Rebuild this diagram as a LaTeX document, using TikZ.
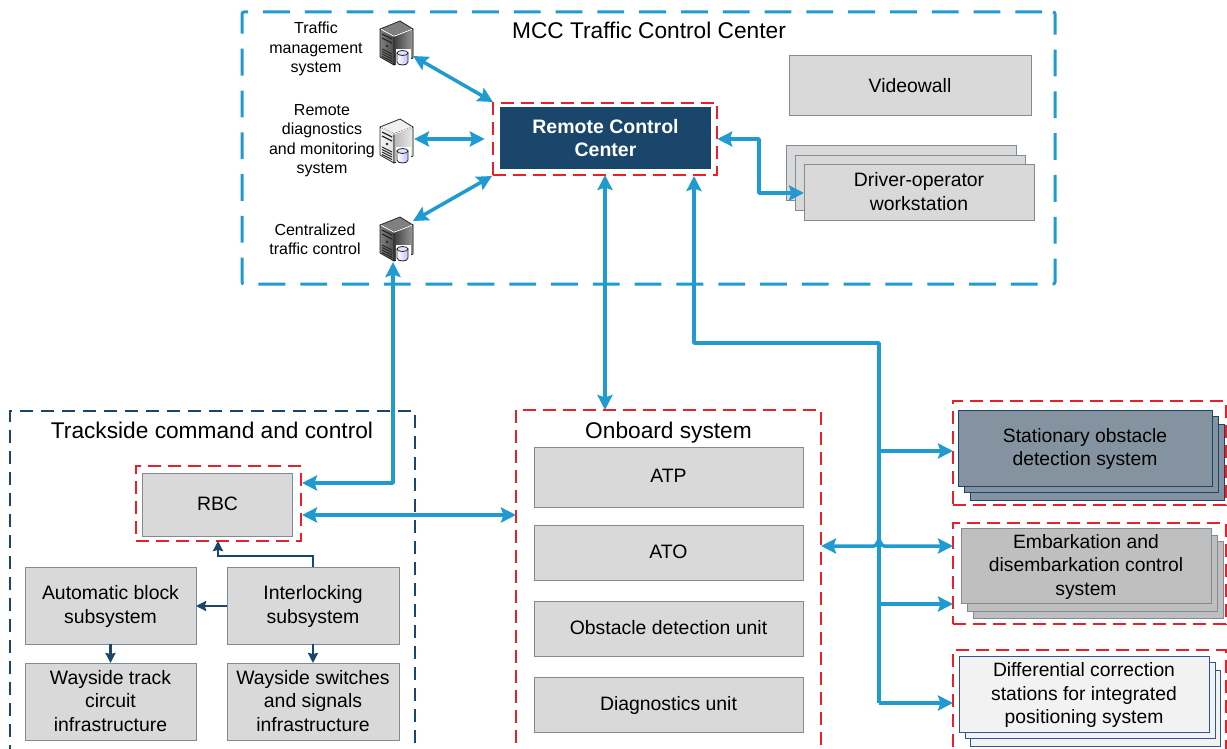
\documentclass[tikz,border=0pt]{standalone}
\usepackage{fontspec}
\setmainfont{Liberation Sans}
\usetikzlibrary{arrows.meta}
\definecolor{linkblue}{HTML}{1F9BCF}
\definecolor{navy}{HTML}{1A466B}
\definecolor{alarmred}{HTML}{E8202A}
\definecolor{boxgrey}{HTML}{D9D9D9}
\definecolor{edgegrey}{HTML}{7F8C96}
\definecolor{slate}{HTML}{84939F}
\definecolor{stationblue}{HTML}{2F5597}
\tikzstyle{box} = [draw=edgegrey, fill=boxgrey, line width=1pt, rectangle, align=center, inner sep=0pt, outer sep=0pt, text depth=1.6pt, font=\fontsize{19.4}{23.5}\selectfont]
\tikzstyle{frame} = [draw, rectangle, inner sep=0pt, outer sep=0pt]
\tikzstyle{red frame} = [frame, draw=alarmred, line width=1.6pt, dash pattern=on 13pt off 7pt]
\tikzstyle{navy frame} = [frame, draw=navy, line width=1.6pt, dash pattern=on 13pt off 8pt]
\tikzstyle{blue frame} = [frame, draw=linkblue, line width=3pt, dash pattern=on 26.8pt off 15pt, dash phase=31pt, rounded corners=2pt]
\tikzstyle{title} = [inner sep=0pt, text depth=0pt, font=\fontsize{22.7}{26}\selectfont]
\tikzstyle{caption} = [inner sep=0pt, align=center, text depth=0pt, font=\fontsize{16}{19.5}\selectfont]
\tikzstyle{obstacle} = [box, draw=navy, fill=slate, font=\fontsize{19.3}{23.5}\selectfont]
\tikzstyle{gate} = [box, fill=black!25, font=\fontsize{19.3}{23.5}\selectfont]
\tikzstyle{station} = [box, draw=stationblue, fill=black!5, font=\fontsize{19.3}{23.5}\selectfont]
\tikzstyle{link} = [{Stealth[length=15pt, width=15pt, inset=2.5pt]}-{Stealth[length=15pt, width=15pt, inset=2.5pt]}, linkblue, line width=3.5pt, line join=round]
\tikzstyle{feed} = [-{Stealth[length=15pt, width=15pt, inset=2.5pt]}, linkblue, line width=3.5pt, line join=round]
\tikzstyle{control} = [-{Stealth[length=10pt, width=10pt, inset=1pt]}, navy, line width=2.2pt]
\tikzstyle{serverspot} = [inner sep=0pt, outer sep=0pt, minimum width=34pt, minimum height=46pt]
\tikzset{
    pics/server/.style n args={3}{code={
        \fill [#1, draw=black!85, line width=0.8pt, line join=round] (3, -22) -- (16, -14) -- (-3, -7) -- (-17, -14) -- cycle;
        \fill [#2, draw=black!85, line width=0.8pt, line join=round] (-17, -14) -- (-3, -7) -- (-3, 22) -- (-17, 14) -- cycle;
        \fill [#3, draw=black!85, line width=0.8pt, line join=round] (-3, -7) -- (16, -14) -- (16, 15) -- (-3, 22) -- cycle;
        \draw [white, line width=0.9pt] (-16, -13.7) -- (-3, -6.8) -- (15, -13.7);
        \foreach \y in {-9, -5} {
            \draw [black!85, line width=1.3pt] (-15, \y) -- (-5, \y + 5);
        }
        \fill [black!85] (-10, 3) circle (1.3pt);
        \foreach \y in {6, 8.5, 11, 13.5} {
            \draw [black!85, line width=0.9pt] (-15, \y) -- (-5, \y + 5);
        }
        % Disk.
        \fill [white] (-1, 6) rectangle (14, 24);
        \draw [left color=white, right color=blue!25, draw=black!85, line width=0.8pt] (0, 10) -- (0, 19) .. controls (0, 23) and (11, 23) .. (11, 19) -- (11, 10) -- cycle;
        \draw [fill=blue!12, draw=black!85, line width=0.8pt] (5.5, 10) ellipse [x radius=5.5pt, y radius=2.5pt];
    }}
}

\begin{document}
\begin{tikzpicture}[x=1pt, y=-1pt]
    \clip [use as bounding box] (0, 0) rectangle (1227, 749);

    % Traffic control center.
    \node (mcc) [blue frame, minimum width=813pt, minimum height=272pt] at (648.5, 148) {};
    \node (mcc title) [title] at (649, 30) {MCC Traffic Control Center};

    \node (videowall) [box, minimum width=242pt, minimum height=60pt] at (910, 86) {Videowall};
    \node (desk back) [box, minimum width=230pt, minimum height=55pt] at (901, 173.5) {};
    \node (desk mid) [box, minimum width=230pt, minimum height=55pt] at (910.5, 183) {};
    \node (desk) [box, minimum width=230pt, minimum height=55pt] at (919, 192.5) {Driver-operator\\workstation};

    \node (rcc frame) [red frame, minimum width=224.5pt, minimum height=72pt] at (605, 139) {};
    \node (rcc) [fill=navy, text=white, inner sep=0pt, align=center, minimum width=211pt, minimum height=62pt, font=\fontsize{19.5}{23}\selectfont\bfseries] at (605.5, 138.5) {Remote Control\\Center};

    % Servers.
    \node (tms) [serverspot] at (397, 43) {};
    \node (rdm) [serverspot] at (397, 141) {};
    \node (ctc) [serverspot] at (397, 239) {};
    \pic at (tms) {server={fill=black!50}{left color=black!50, right color=black!70}{left color=black!75, right color=black!40}};
    \pic at (rdm) {server={fill=black!6}{left color=black!4, right color=black!12}{left color=black!28, right color=black!8}};
    \pic at (ctc) {server={fill=black!50}{left color=black!50, right color=black!70}{left color=black!75, right color=black!40}};

    \node (tms text) [caption] at (316, 47.5) {Traffic\\management\\system};
    \node (rdm text) [caption] at (322, 139) {Remote\\diagnostics\\and monitoring\\system};
    \node (ctc text) [caption] at (315, 239) {Centralized\\traffic control};

    % Trackside.
    \node (trackside) [navy frame, minimum width=405pt, minimum height=389pt] at (212.5, 605.5) {};
    \node (trackside title) [title] at (212, 430) {Trackside command and control};

    \node (rbc frame) [red frame, minimum width=165pt, minimum height=75pt] at (218.5, 503.5) {};
    \node (rbc) [box, minimum width=150pt, minimum height=63pt] at (217.5, 504.5) {RBC};
    \node (block) [box, minimum width=171pt, minimum height=77pt] at (110.5, 605.5) {Automatic block\\subsystem};
    \node (interlock) [box, minimum width=172pt, minimum height=77pt] at (313, 605.5) {Interlocking\\subsystem};
    \node (track) [box, minimum width=171pt, minimum height=77pt] at (110.5, 701.5) {Wayside track\\circuit\\infrastructure};
    \node (switches) [box, minimum width=172pt, minimum height=77pt] at (313, 701.5) {Wayside switches\\and signals\\infrastructure};

    % Onboard.
    \node (onboard) [red frame, minimum width=305pt, minimum height=390pt] at (668.5, 605) {};
    \node (onboard title) [title] at (668.5, 430) {Onboard system};

    \node (atp) [box, minimum width=269pt, minimum height=60pt] at (668.5, 477) {ATP};
    \node (ato) [box, minimum width=269pt, minimum height=54.5pt] at (668.5, 552.75) {ATO};
    \node (odu) [box, minimum width=269pt, minimum height=55pt] at (668.5, 628.5) {Obstacle detection unit};
    \node (diag) [box, minimum width=269pt, minimum height=55pt] at (668.5, 704.5) {Diagnostics unit};

    % Wayside systems.
    \node (obstacle frame) [red frame, minimum width=273pt, minimum height=104pt] at (1089.5, 453) {};
    \node (obstacle back) [obstacle, minimum width=254pt, minimum height=76pt] at (1097, 462) {};
    \node (obstacle mid) [obstacle, minimum width=254pt, minimum height=76pt] at (1091, 454) {};
    \node (obstacle) [obstacle, minimum width=254pt, minimum height=76pt] at (1085, 448) {Stationary obstacle\\detection system};

    \node (gate frame) [red frame, minimum width=273pt, minimum height=101pt] at (1089.5, 573.5) {};
    \node (gate back) [gate, minimum width=250pt, minimum height=77pt] at (1098, 580) {};
    \node (gate mid) [gate, minimum width=250pt, minimum height=76pt] at (1092, 573) {};
    \node (gate) [gate, minimum width=250pt, minimum height=75pt] at (1086, 565.5) {Embarkation and\\disembarkation control\\system};

    \node (station frame) [red frame, minimum width=273pt, minimum height=150pt] at (1089.5, 725) {};
    \node (station back) [station, minimum width=250pt, minimum height=76pt] at (1095, 708) {};
    \node (station mid) [station, minimum width=250pt, minimum height=76pt] at (1090, 700) {};
    \node (station) [station, minimum width=250pt, minimum height=76pt] at (1084, 694) {Differential correction\\stations for integrated\\positioning system};

    % Connection points.
    \coordinate (tms port) at (413, 56);
    \coordinate (rcc nw) at (493, 102);
    \coordinate (ctc port) at (413, 221);
    \coordinate (ctc low) at (393, 262);
    \coordinate (rcc sw) at (492, 176);
    \coordinate (rcc low) at (694, 176);
    \coordinate (rbc high) at (302, 483);
    \coordinate (rbc low) at (302, 515);
    \coordinate (bus corner) at (879, 343);
    \coordinate (bus end) at (879, 703);
    \coordinate (hop in) at (874, 546);
    \coordinate (hop out) at (884, 546);

    % Blue connections.
    \draw [link] (tms port) -- (rcc nw);
    \draw [link, shorten >=8pt] (rdm.east |- rcc frame.west) -- (rcc frame.west);
    \draw [link] (ctc port) -- (rcc sw);
    \draw [link] (rcc frame.east) -- (759, 139) -- (759, 193) -- (desk.west |- 0, 193);
    \draw [link] (ctc low) -- (ctc low |- rbc high) -- (rbc high);
    \draw [link] (rbc low) -- (onboard.west |- rbc low);
    \draw [link] (rcc frame.south) -- (rcc frame.south |- onboard.north);

    \draw [feed] (bus end) -- (bus corner) -- (rcc low |- bus corner) -- (rcc low);
    \draw [feed] (bus end) -- (bus end -| station frame.west);
    \draw [feed] (879, 451) -- (obstacle frame.west |- 0, 451);
    \draw [feed] (879, 604) -- (gate frame.west |- 0, 604);
    \draw [link] (onboard.east |- hop in) -- (hop in) .. controls (877, 546) and (877, 541) .. (879, 541) .. controls (881, 541) and (881, 546) .. (hop out) -- (gate frame.west |- hop out);

    % Control connections.
    \draw [control] (interlock.north) -- (313, 556) -- (218, 556) -- (rbc frame.south -| 218, 0);
    \draw [control] (interlock.west |- 0, 606) -- (block.east |- 0, 606);
    \draw [control] (block.south) -- (track.north);
    \draw [control] (interlock.south) -- (switches.north);
\end{tikzpicture}
\end{document}
